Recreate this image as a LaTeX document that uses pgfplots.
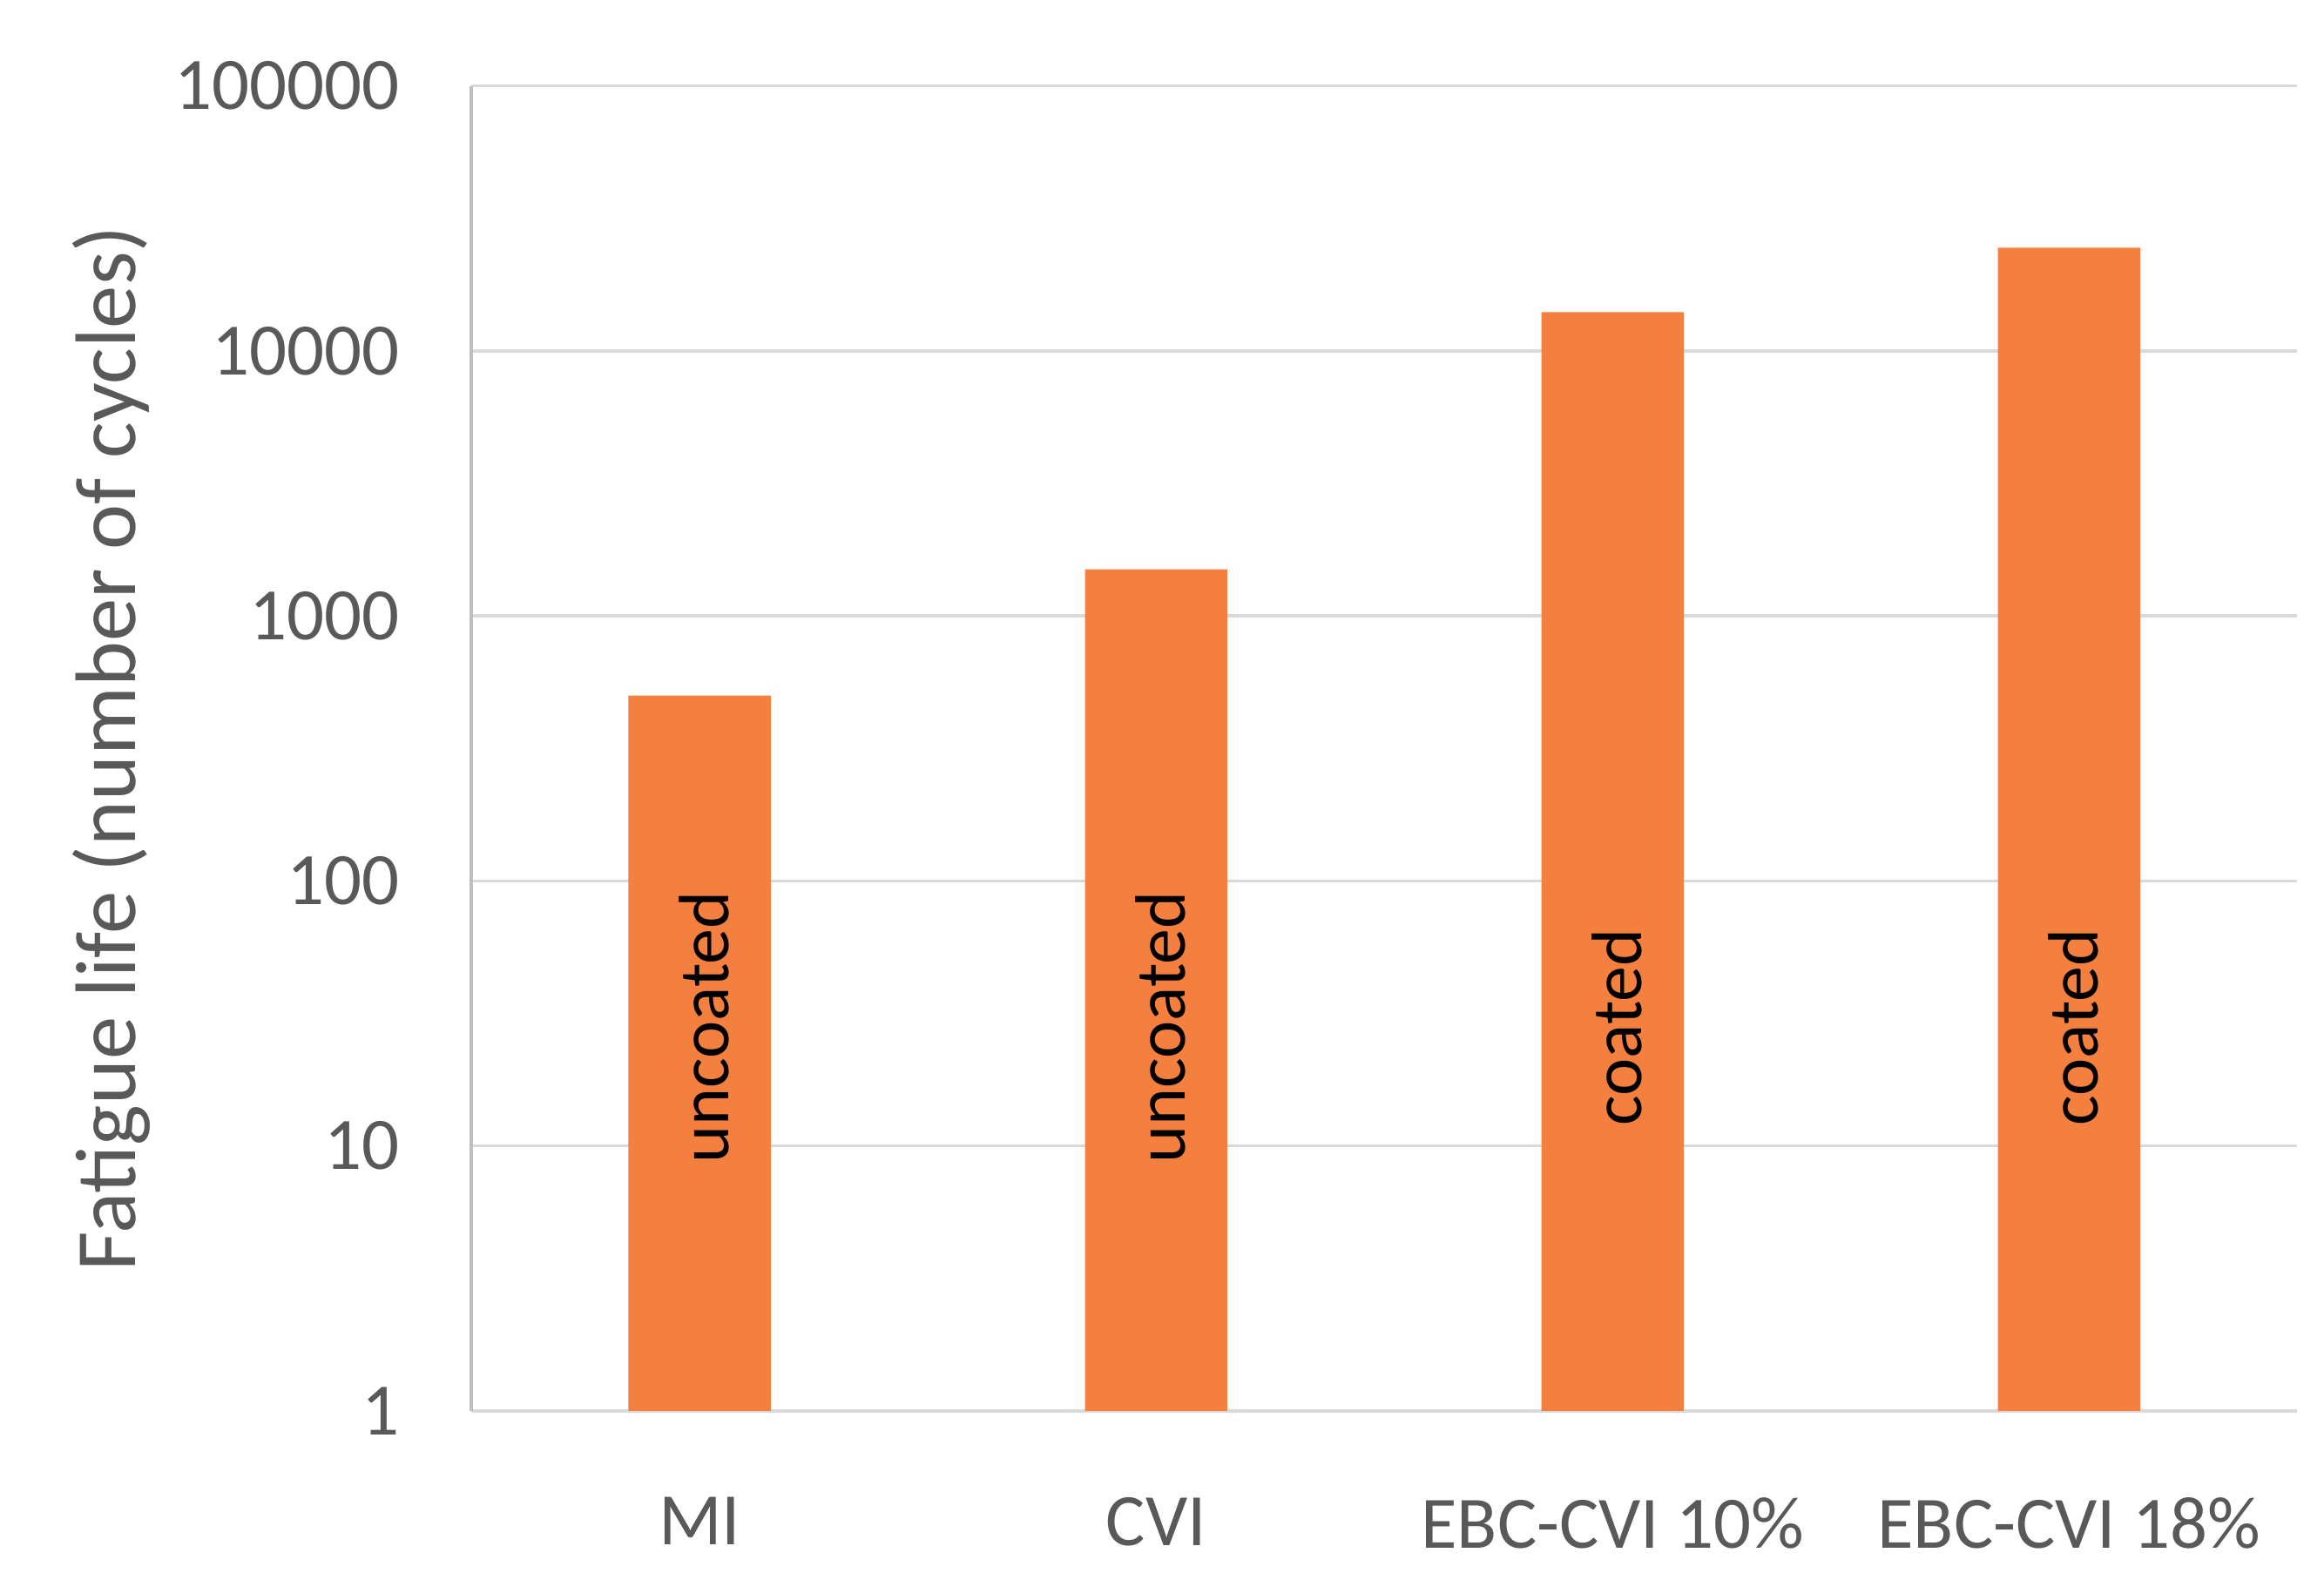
\documentclass[border=0pt]{standalone}
\usepackage{pgfplots}
\pgfplotsset{compat=1.18}
\usepackage{fontspec}
\setmainfont{Carlito}
\definecolor{barorange}{HTML}{F4803F}
\definecolor{txtgray}{HTML}{595959}
\definecolor{gridgray}{HTML}{D9D9D9}
\definecolor{axgray}{HTML}{BFBFBF}
\begin{document}
\begin{tikzpicture}
\begin{axis}[
  scale only axis,
  width=12.32cm, height=8.94cm,
  ymode=log, log basis y=10,
  ymin=1, ymax=100000,
  xmin=-0.5, xmax=3.5,
  ybar, bar width=9.6mm,
  xtick={0,1,2,3},
  xticklabels={MI, CVI, EBC-CVI 10\%, EBC-CVI 18\%},
  ytick={1,10,100,1000,10000,100000},
  yticklabels={1,10,100,1000,10000,100000},
  axis x line*=bottom, axis y line*=left,
  x axis line style={gridgray, line width=0.6pt, -},
  y axis line style={axgray, line width=0.6pt, -},
  major tick length=0pt,
  ymajorgrids, major grid style={gridgray, line width=0.6pt},
  minor ytick={}, yminorticks=false,
  tick label style={font=\fontsize{14.2}{16}\selectfont, text=txtgray},
  xticklabel style={yshift=-4.6mm},
  yticklabel style={xshift=-3.6mm},
  ylabel={Fatigue life (number of cycles)},
  every axis y label/.style={at={(axis description cs:-0.197,0.5)}, rotate=90, anchor=center,
    font=\fontsize{16.5}{19}\selectfont, text=txtgray},
  clip=false,
]
\addplot[fill=barorange, draw=none] coordinates {(0,500) (1,1500) (2,14000) (3,24500)};
\node[rotate=90, font=\fontsize{13.7}{16}\selectfont, text=black] at (axis cs:0.01,28) {uncoated};
\node[rotate=90, font=\fontsize{13.7}{16}\selectfont, text=black] at (axis cs:1.01,28) {uncoated};
\node[rotate=90, font=\fontsize{13.7}{16}\selectfont, text=black] at (axis cs:2.01,28) {coated};
\node[rotate=90, font=\fontsize{13.7}{16}\selectfont, text=black] at (axis cs:3.01,28) {coated};
\end{axis}
\path (current axis.south west) ++(-3.18cm,-1.09cm) rectangle ([shift={(0.18cm,0.58cm)}]current axis.north east);
\end{tikzpicture}
\end{document}
